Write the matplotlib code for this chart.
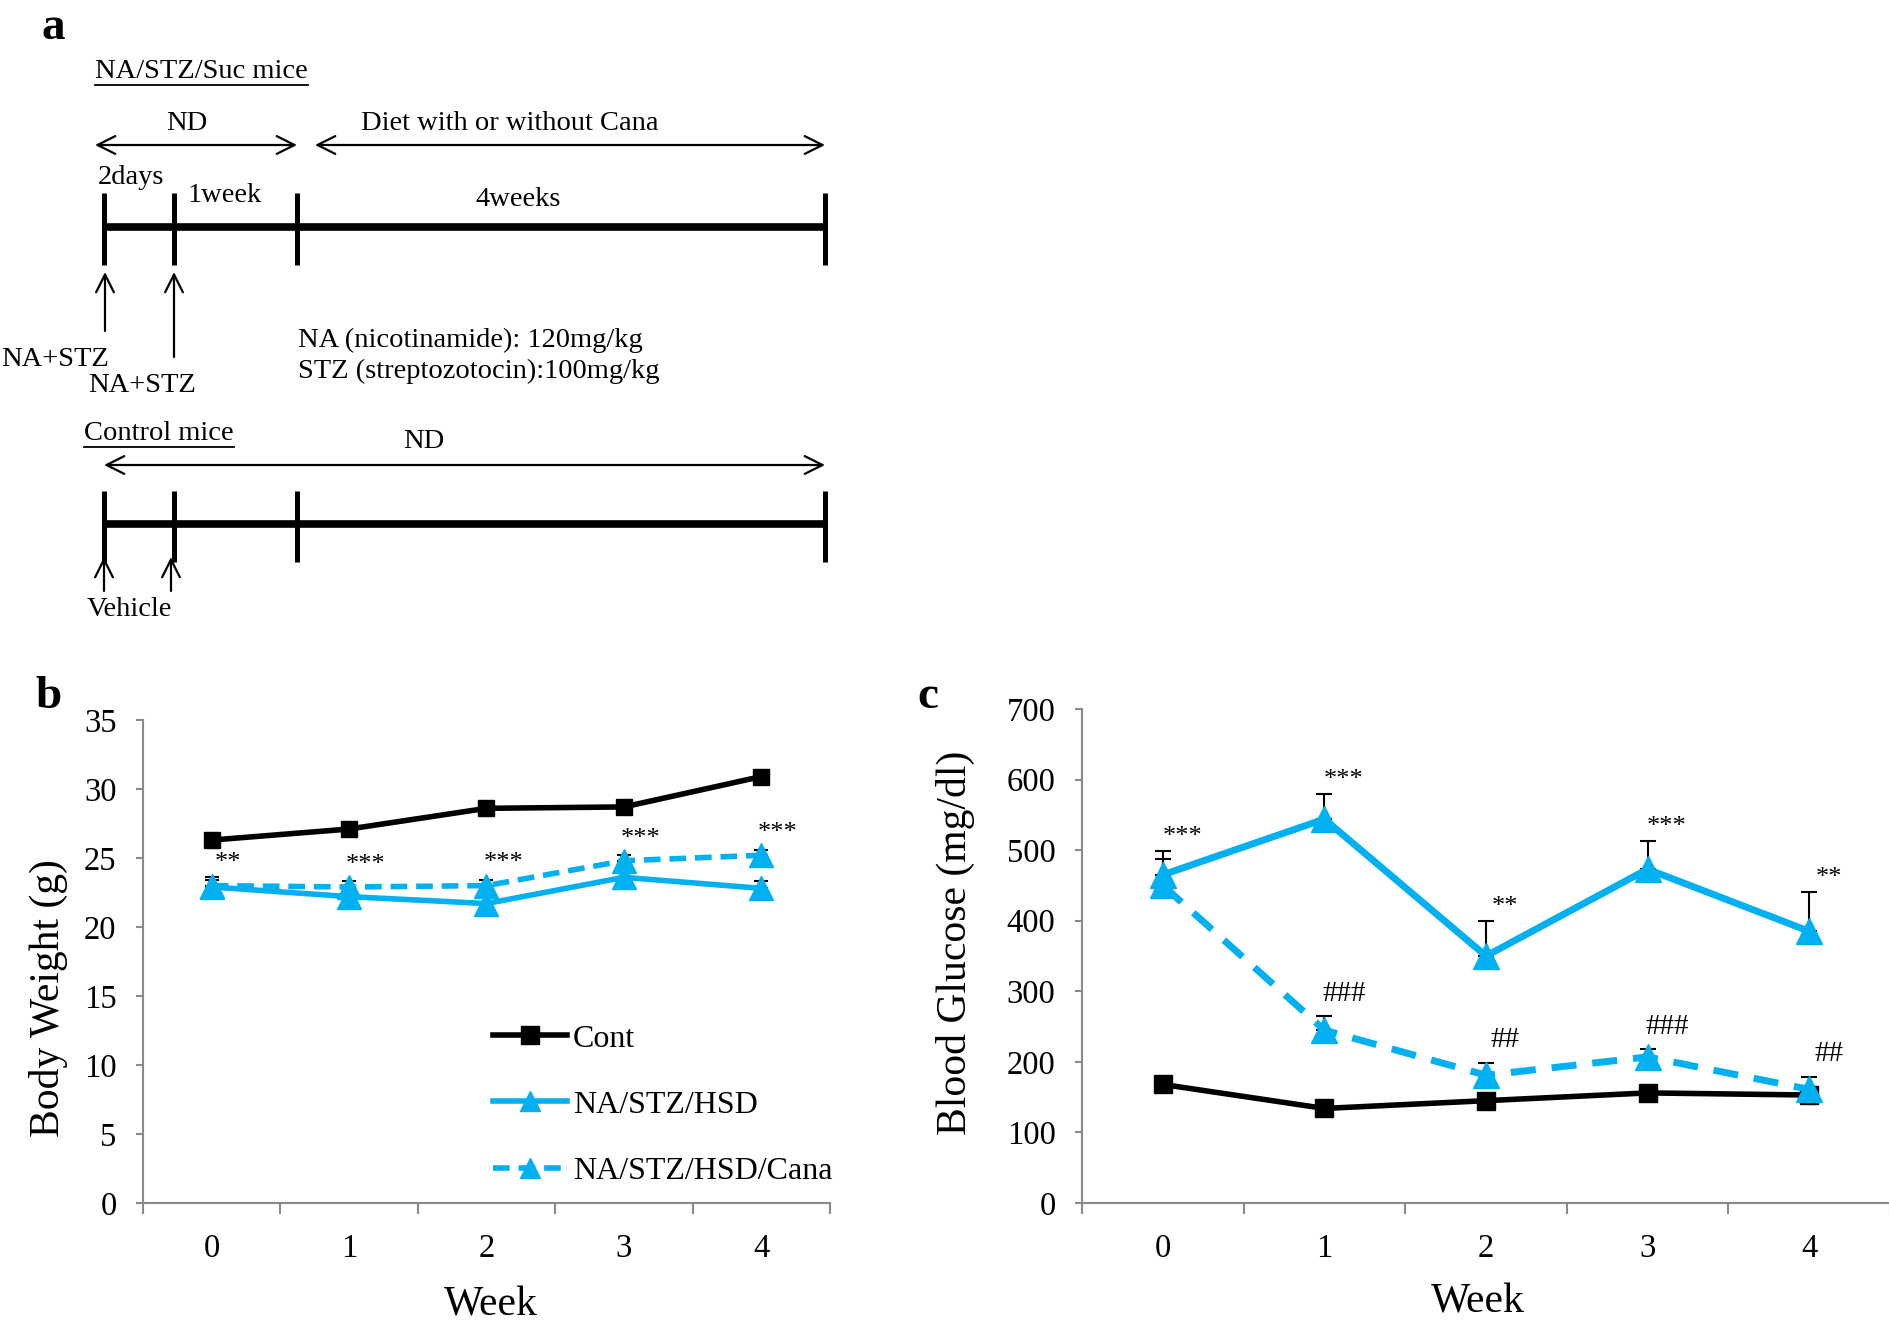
import matplotlib
matplotlib.use("Agg")
import matplotlib.pyplot as plt
import numpy as np

plt.rcParams['font.family'] = ['Liberation Serif', 'DejaVu Serif']

# ---------------- data ----------------
weeks = [0, 1, 2, 3, 4]
week_labels = ["0", "1", "2", "3", "4"]
series_names = ["Cont", "NA/STZ/HSD", "NA/STZ/HSD/Cana"]

bw_cont = [26.3, 27.1, 28.6, 28.7, 30.9]
bw_hsd = [22.9, 22.2, 21.7, 23.6, 22.8]
bw_cana = [23.0, 22.9, 23.0, 24.8, 25.2]
bw_cont_err = [0.3, 0.3, 0.3, 0.3, 0.3]
bw_hsd_err = [0.7, 0.4, 0.5, 0.4, 0.5]
bw_cana_err = [0.4, 0.4, 0.4, 0.4, 0.4]
bw_stars = ["**", "***", "***", "***", "***"]

bg_cont = [168, 134, 145, 156, 153]
bg_hsd = [465, 544, 350, 473, 385]
bg_cana = [450, 245, 181, 207, 161]
bg_cont_err = [5, 5, 5, 5, 5]
bg_hsd_err = [34, 36, 50, 40, 56]
bg_cana_err = [38, 20, 18, 11, 18]
bg_stars = ["***", "***", "**", "***", "**"]
bg_hash = ["", "###", "##", "###", "##"]

BLUE = "#00B0F0"
GRAY = "#8a8a8a"

W, H = 1890, 1332
fig = plt.figure(figsize=(W / 100, H / 100), dpi=100)

# ---------------- panel a (diagram, in pixel space) ----------------
axd = fig.add_axes([0, 0, 1, 1])
axd.set_xlim(0, W)
axd.set_ylim(H, 0)
axd.axis("off")

fs_a = 20.5

def txt(x, y, s, ha="left", size=fs_a, **kw):
    return axd.text(x, y, s, ha=ha, va="center", fontsize=size, **kw)

def darrow(x0, x1, y):
    axd.annotate("", xy=(x1, y), xytext=(x0, y),
                 arrowprops=dict(arrowstyle="<->", lw=1.6, color="black",
                                 mutation_scale=32, shrinkA=0, shrinkB=0))

def uarrow(x, y0, y1):
    axd.annotate("", xy=(x, y1), xytext=(x, y0),
                 arrowprops=dict(arrowstyle="->", lw=1.6, color="black",
                                 mutation_scale=32, shrinkA=0, shrinkB=0))

txt(53, 28, "a", ha="center", size=34, fontweight="bold")
t1 = txt(95, 72, "NA/STZ/Suc mice")
txt(187, 123, "ND", ha="center")
txt(510, 123, "Diet with or without Cana", ha="center")
darrow(95, 297, 145)
darrow(315, 825, 145)
txt(98, 178, "2days")
txt(225, 196, "1week", ha="center")
txt(518, 200, "4weeks", ha="center")
axd.plot([104, 825], [227, 227], color="black", lw=5.5, solid_capstyle="butt")
for xv in [104, 174, 297, 825]:
    axd.plot([xv, xv], [193, 265], color="black", lw=3.6, solid_capstyle="butt")
uarrow(105, 331, 272)
uarrow(174, 357, 272)
txt(1, 359, "NA+STZ")
txt(88, 386, "NA+STZ")
txt(298, 340, "NA (nicotinamide): 120mg/kg")
txt(298, 371, "STZ (streptozotocin):100mg/kg")

t2 = txt(84, 434, "Control mice")
txt(424, 442, "ND", ha="center")
darrow(104, 825, 465)
axd.plot([104, 825], [524, 524], color="black", lw=5.5, solid_capstyle="butt")
for xv in [104, 174, 297, 825]:
    axd.plot([xv, xv], [491, 562], color="black", lw=3.6, solid_capstyle="butt")
uarrow(104, 591, 557)
uarrow(171, 591, 557)
txt(87, 610, "Vehicle")

# underline the two headings
fig.canvas.draw()
rend = fig.canvas.get_renderer()
for t, yline in [(t1, 85), (t2, 447)]:
    bb = t.get_window_extent(rend)
    axd.plot([bb.x0, bb.x1], [yline, yline], color="black", lw=1.3)

axd.text(48, 697, "b", ha="center", va="center", fontsize=34, fontweight="bold")
axd.text(928, 697, "c", ha="center", va="center", fontsize=34, fontweight="bold")

# ---------------- helper for line panels ----------------
def style_axes(ax):
    for s in ["top", "right"]:
        ax.spines[s].set_visible(False)
    for s in ["left", "bottom"]:
        ax.spines[s].set_color(GRAY)
        ax.spines[s].set_linewidth(1.5)
    ax.set_xlim(-0.5, 4.5)
    ax.set_xticks(np.arange(-0.5, 5.0, 1.0))
    ax.set_xticklabels([])
    ax.set_xticks(weeks, minor=True)
    ax.set_xticklabels(week_labels, minor=True)
    ax.tick_params(axis="x", which="major", length=8, width=1.5, color=GRAY, direction="out")
    ax.tick_params(axis="x", which="minor", length=0, labelsize=23.5, pad=22)
    ax.tick_params(axis="y", which="major", length=5, width=1.5, color=GRAY,
                   direction="out", labelsize=23.5, pad=14)

def px_axes(l, r, t, b):
    return fig.add_axes([l / W, (H - b) / H, (r - l) / W, (b - t) / H])

# ---------------- panel b ----------------
axb = px_axes(143, 830, 720, 1203)
style_axes(axb)
axb.set_ylim(0, 35)
axb.set_yticks(np.arange(0, 36, 5))

z = np.zeros(5)
axb.errorbar(weeks, bw_cont, yerr=[z, bw_cont_err], fmt="none", ecolor="black",
             elinewidth=1.5, capsize=5, capthick=1.5, zorder=1)
axb.errorbar(weeks, bw_hsd, yerr=[z, bw_hsd_err], fmt="none", ecolor="black",
             elinewidth=1.5, capsize=5, capthick=1.5, zorder=1)
axb.errorbar(weeks, bw_cana, yerr=[z, bw_cana_err], fmt="none", ecolor="black",
             elinewidth=1.5, capsize=5, capthick=1.5, zorder=1)
axb.plot(weeks, bw_cont, color="black", lw=4, marker="s", ms=12, label=series_names[0], zorder=3)
axb.plot(weeks, bw_hsd, color=BLUE, lw=4, marker="^", ms=17, label=series_names[1], zorder=3)
axb.plot(weeks, bw_cana, color=BLUE, lw=4, ls=(0, (3, 1.6)), marker="^", ms=17,
         label=series_names[2], zorder=3)
for xv, yv, e, s in zip(weeks, bw_cana, bw_cana_err, bw_stars):
    axb.annotate(s, (xv, yv + e), xytext=(12, 12), textcoords="offset points",
                 ha="center", va="center", fontsize=19)

leg = axb.legend(loc="center left", bbox_to_anchor=(0.51, 0.203), frameon=False,
                 fontsize=23, handlelength=2.3, handletextpad=0.2, labelspacing=1.15,
                 borderpad=0, borderaxespad=0, numpoints=1)
for h in leg.legend_handles:
    h.set_markersize(13 if h.get_marker() == "s" else 14)

axb.set_xlabel("Week", fontsize=30)
axb.xaxis.set_label_coords(0.507, -0.211)
axb.xaxis.label.set_va("center")
axb.set_ylabel("Body Weight (g)", fontsize=30, va="center", ha="center")
axb.yaxis.set_label_coords(-0.137, 0.424)

# ---------------- panel c ----------------
axc = px_axes(1082, 1890, 709, 1203)
style_axes(axc)
axc.set_ylim(0, 700)
axc.set_yticks(np.arange(0, 701, 100))

axc.errorbar(weeks, bg_cont, yerr=[z, bg_cont_err], fmt="none", ecolor="black",
             elinewidth=1.5, capsize=5, capthick=1.5, zorder=1)
axc.errorbar(weeks, bg_hsd, yerr=[z, bg_hsd_err], fmt="none", ecolor="black",
             elinewidth=1.5, capsize=6, capthick=1.5, zorder=1)
axc.errorbar(weeks, bg_cana, yerr=[z, bg_cana_err], fmt="none", ecolor="black",
             elinewidth=1.5, capsize=6, capthick=1.5, zorder=1)
axc.plot(weeks, bg_cont, color="black", lw=4, marker="s", ms=13, zorder=3)
axc.plot(weeks, bg_hsd, color=BLUE, lw=5, marker="^", ms=19, zorder=3)
axc.plot(weeks, bg_cana, color=BLUE, lw=5, ls=(0, (3.6, 2.3)), marker="^", ms=19, zorder=3)
for xv, yv, e, s in zip(weeks, bg_hsd, bg_hsd_err, bg_stars):
    axc.annotate(s, (xv, yv + e), xytext=(14, 10), textcoords="offset points",
                 ha="center", va="center", fontsize=19)
for xv, yv, e, s in zip(weeks, bg_cana, bg_cana_err, bg_hash):
    if s:
        axc.annotate(s, (xv, yv + e), xytext=(14, 16), textcoords="offset points",
                     ha="center", va="center", fontsize=21)

axc.set_xlabel("Week", fontsize=30)
axc.xaxis.set_label_coords(0.49, -0.2)
axc.xaxis.label.set_va("center")
axc.set_ylabel("Blood Glucose (mg/dl)", fontsize=30, va="center", ha="center")
axc.yaxis.set_label_coords(-0.156, 0.526)

fig.savefig("out.png", dpi=100)
